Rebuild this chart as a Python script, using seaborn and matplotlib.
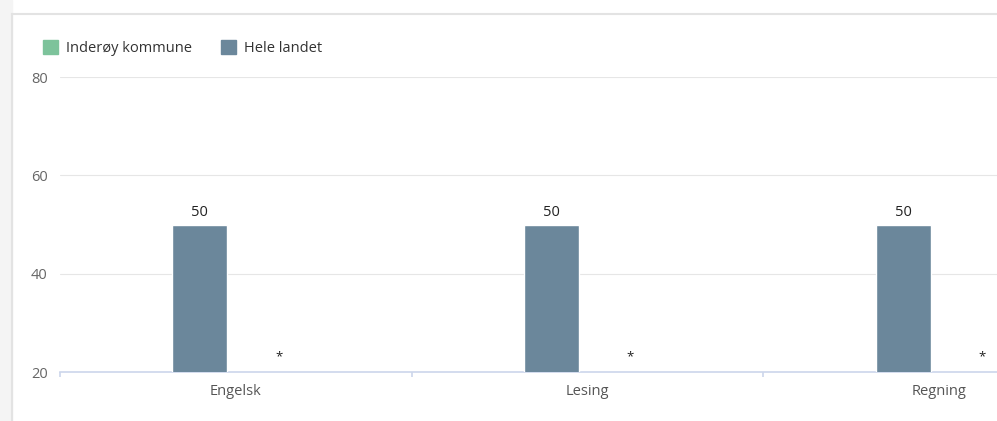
import matplotlib.pyplot as plt
import numpy as np
import pandas as pd
import seaborn as sns
from matplotlib.patches import Patch, Rectangle
from matplotlib.lines import Line2D

# data
fag = ['Engelsk', 'Lesing', 'Regning']
inderoy = [np.nan, np.nan, np.nan]   # skjult (*)
hele_landet = [50, 50, 50]

serier = ['Inderøy kommune', 'Hele landet']
farger = {'Inderøy kommune': '#7dc39b', 'Hele landet': '#6b879b'}

df = pd.DataFrame({
    'Fag': fag * 2,
    'Serie': ['Hele landet'] * 3 + ['Inderøy kommune'] * 3,
    'Verdi': hele_landet + inderoy,
})

sns.set_style('white')
plt.rcParams['font.family'] = ['Open Sans', 'DejaVu Sans']
fs = 10.5

W, H = 997, 421
fig = plt.figure(figsize=(W / 100, H / 100), dpi=100)

# card background / border
fig.patches.append(Rectangle((0, 0), 12 / W, 1, transform=fig.transFigure, color='#f4f4f4', zorder=0))
fig.lines.append(Line2D([12 / W, 12 / W], [0, 1 - 14 / H], transform=fig.transFigure, color='#e3e3e3', lw=1.5))
fig.lines.append(Line2D([12 / W, 1], [1 - 14 / H, 1 - 14 / H], transform=fig.transFigure, color='#e3e3e3', lw=1.5))

# axes stretches past the right edge (chart is cropped)
left, right = 60 / W, 1115 / W
bottom, top = (H - 372) / H, (H - 77) / H
ax = fig.add_axes([left, bottom, right - left, top - bottom])

bredde = 0.41
sns.barplot(data=df, x='Fag', y='Verdi', hue='Serie', hue_order=['Hele landet', 'Inderøy kommune'],
            order=fag, palette=farger, saturation=1, width=bredde, gap=0.24, ax=ax,
            legend=False, zorder=3)

ax.set_ylim(20, 80)
ax.set_xlim(-0.5, len(fag) - 0.5)
ax.set_yticks([20, 40, 60, 80])
ax.yaxis.grid(True, color='#e6e6e6', lw=0.8)
ax.set_axisbelow(True)
for s in ['top', 'right', 'left']:
    ax.spines[s].set_visible(False)
ax.spines['bottom'].set_color('#ccd6eb')
ax.spines['bottom'].set_linewidth(1.2)
ax.set_xlabel('')
ax.set_ylabel('')
ax.tick_params(axis='y', length=0, pad=9, labelsize=fs, labelcolor='#666666')
ax.tick_params(axis='x', length=0, pad=8.5, labelsize=fs, labelcolor='#555555')
ax.set_xticks(np.arange(len(fag) + 1) - 0.5, minor=True)
ax.tick_params(axis='x', which='minor', bottom=True, length=3.5, color='#ccd6eb', width=1.2)

# data labels
for i, v in enumerate(hele_landet):
    ax.annotate(f'{v}', (i - bredde / 4, v), xytext=(0, 3.5), textcoords='offset points',
                ha='center', va='bottom', fontsize=fs, color='#222222')
for i, v in enumerate(inderoy):
    if np.isnan(v):
        ax.annotate('*', (i + bredde / 4, 20), xytext=(5, 6), textcoords='offset points',
                    ha='center', va='bottom', fontsize=fs - 1, color='#222222')

handles = [Patch(color=farger[s]) for s in serier]
fig.legend(handles, serier, loc='center left', bbox_to_anchor=(30 / W, 1 - 48 / H), ncol=2,
           frameon=False, fontsize=fs, handlelength=1.05, handleheight=1.05,
           handletextpad=0.55, columnspacing=1.95, labelcolor='#333333')

fig.savefig('out.png', dpi=100)
